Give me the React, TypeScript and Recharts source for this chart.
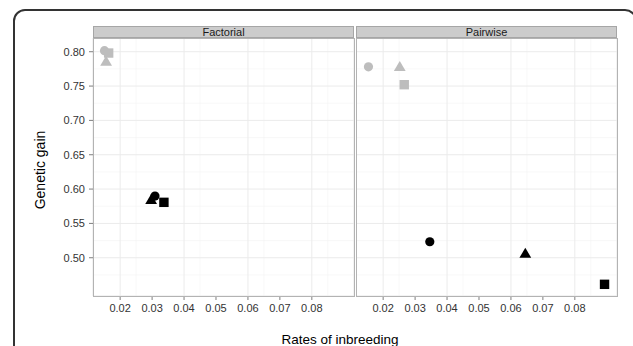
import React from 'react';
import { ScatterChart, Scatter, XAxis, YAxis, CartesianGrid } from 'recharts';

// marker shapes, same order in every series
const schemes = ['circle', 'triangle', 'square'];

const factorialGreyRate = [0.0151, 0.0156, 0.0164];
const factorialGreyGain = [0.8016, 0.7855, 0.7981];
const factorialBlackRate = [0.0309, 0.0297, 0.0337];
const factorialBlackGain = [0.5898, 0.584, 0.5807];

const pairwiseGreyRate = [0.0154, 0.0252, 0.0266];
const pairwiseGreyGain = [0.778, 0.7778, 0.752];
const pairwiseBlackRate = [0.0346, 0.0645, 0.0893];
const pairwiseBlackGain = [0.5233, 0.5058, 0.4613];

const xTicks = [0.02, 0.03, 0.04, 0.05, 0.06, 0.07, 0.08];
const xMinor = [0.015, 0.025, 0.035, 0.045, 0.055, 0.065, 0.075, 0.085];
const yTicks = [0.5, 0.55, 0.6, 0.65, 0.7, 0.75, 0.8];
const yMinor = [0.475, 0.525, 0.575, 0.625, 0.675, 0.725, 0.775];

const xDomain = [0.0115, 0.0932];
const yDomain = [0.4443, 0.82];

const GREY = '#bdbdbd';
const BLACK = '#000000';
const FONT = '"Liberation Sans", Arial, sans-serif';

const toPoints = (rates: number[], gains: number[]) =>
  rates.map((r, i) => ({ x: r, y: gains[i], shape: schemes[i] }));

const Marker = (props: any) => {
  const { cx, cy, payload, fill } = props;
  if (cx == null || cy == null) return null;
  if (payload.shape === 'circle') return <circle cx={cx} cy={cy} r={4.6} fill={fill} />;
  if (payload.shape === 'square') return <rect x={cx - 4.7} y={cy - 4.7} width={9.4} height={9.4} fill={fill} />;
  return <polygon points={`${cx},${cy - 6} ${cx - 5.9},${cy + 4} ${cx + 5.9},${cy + 4}`} fill={fill} />;
};

const tickStyle = { fontSize: 11, fill: '#333333', fontFamily: FONT };

interface PanelProps {
  grey: any[];
  black: any[];
  showY: boolean;
  width: number;
}

const Panel: React.FC<PanelProps> = ({ grey, black, showY, width }) => (
  <ScatterChart width={width} height={346} margin={{ top: 38, right: showY ? 6 : 0, bottom: 0, left: 0 }}>
    <XAxis xAxisId="minor" type="number" dataKey="x" domain={xDomain} ticks={xMinor} hide allowDataOverflow />
    <YAxis yAxisId="minor" type="number" dataKey="y" domain={yDomain} ticks={yMinor} hide allowDataOverflow />
    <CartesianGrid xAxisId="minor" yAxisId="minor" stroke="#f3f3f3" strokeWidth={0.6} />
    <CartesianGrid stroke="#ebebeb" strokeWidth={1} />
    <XAxis
      type="number"
      dataKey="x"
      domain={xDomain}
      ticks={xTicks}
      allowDataOverflow
      height={50}
      tick={tickStyle}
      tickFormatter={(v: number) => v.toFixed(2)}
      tickSize={4}
      tickMargin={4}
      tickLine={{ stroke: '#7f7f7f' }}
      axisLine={false}
    />
    <YAxis
      type="number"
      dataKey="y"
      domain={yDomain}
      ticks={yTicks}
      allowDataOverflow
      hide={!showY}
      width={93}
      tick={tickStyle}
      tickFormatter={(v: number) => v.toFixed(2)}
      tickSize={4}
      tickMargin={4}
      tickLine={{ stroke: '#7f7f7f' }}
      axisLine={false}
    />
    <Scatter data={grey} fill={GREY} shape={<Marker />} isAnimationActive={false} />
    <Scatter data={black} fill={BLACK} shape={<Marker />} isAnimationActive={false} />
  </ScatterChart>
);

const Strip = ({ left, label }: { left: number; label: string }) => (
  <div
    style={{
      position: 'absolute', left, top: 26, width: 261, height: 12, boxSizing: 'border-box',
      background: '#cccccc', border: '1px solid #a6a6a6', textAlign: 'center',
      fontSize: 11, lineHeight: '11px', color: '#1a1a1a', fontFamily: FONT,
    }}
  >
    {label}
  </div>
);

const Border = ({ left }: { left: number }) => (
  <div
    style={{
      position: 'absolute', left, top: 38, width: 262, height: 259, boxSizing: 'border-box',
      border: '1px solid #b3b3b3', pointerEvents: 'none',
    }}
  />
);

export default function App() {
  return (
    <div style={{ position: 'absolute', left: 0, top: 0, width: 633, height: 346, overflow: 'hidden', background: '#fff', fontFamily: FONT }}>
      <div
        style={{
          position: 'absolute', left: 13, top: 9, width: 624, height: 420, boxSizing: 'border-box',
          border: '2px solid #333', borderRadius: 12,
        }}
      />
      <div style={{ position: 'absolute', left: 0, top: 0 }}>
        <Panel grey={toPoints(factorialGreyRate, factorialGreyGain)} black={toPoints(factorialBlackRate, factorialBlackGain)} showY width={360} />
      </div>
      <div style={{ position: 'absolute', left: 356, top: 0 }}>
        <Panel grey={toPoints(pairwiseGreyRate, pairwiseGreyGain)} black={toPoints(pairwiseBlackRate, pairwiseBlackGain)} showY={false} width={261} />
      </div>
      <Border left={93} />
      <Border left={355.5} />
      <Strip left={93} label="Factorial" />
      <Strip left={356} label="Pairwise" />
      <div
        style={{
          position: 'absolute', left: 40, top: 170, transform: 'translate(-50%, -50%) rotate(-90deg)',
          fontSize: 14, color: '#000', whiteSpace: 'nowrap',
        }}
      >
        Genetic gain
      </div>
      <div
        style={{
          position: 'absolute', left: 340, top: 339, transform: 'translate(-50%, -50%)',
          fontSize: 13.5, color: '#000', whiteSpace: 'nowrap',
        }}
      >
        Rates of inbreeding
      </div>
    </div>
  );
}
